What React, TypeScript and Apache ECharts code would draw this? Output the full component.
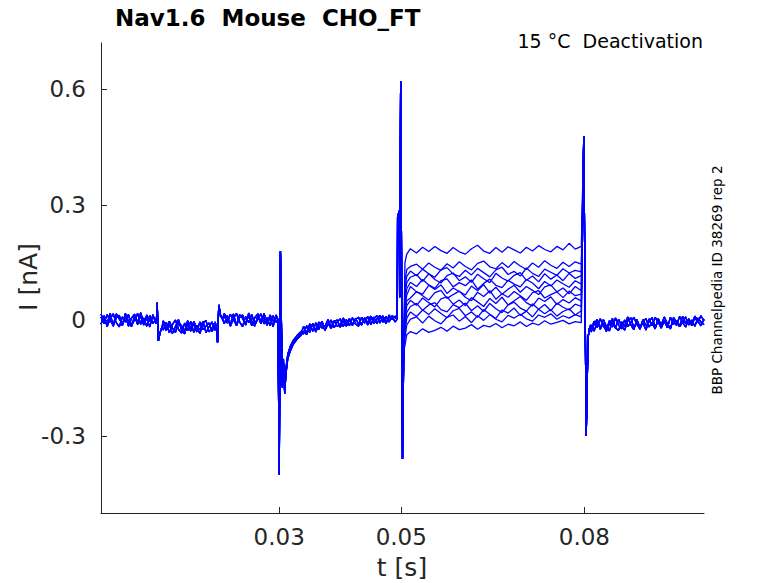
import React, { useEffect, useRef } from "react";
import * as echarts from "echarts";

// ---- axis ranges & ticks ----
const X_MIN = 0.0008;
const X_MAX = 0.0996;
const Y_MIN = -0.5;
const Y_MAX = 0.72;
const xTicks = [0.03, 0.05, 0.08];
const yTicks = [-0.3, 0, 0.3, 0.6];

// ---- shared baseline segments (3 overlapping recordings), sampled every 0.5 ms ----
const SAMPLE_DT = 0.0005;
const segAStart = 0.0008;
const segA = [
  [0.009, -0.008, 0.015, 0.000, -0.013, 0.017, 0.004, -0.010, 0.012, -0.015, 0.006, 0.016, -0.005, 0.011, -0.012, 0.014, -0.003, 0.010, 0.002],
  [-0.010, 0.012, -0.016, 0.004, 0.017, -0.006, -0.017, 0.009, -0.004, 0.015, -0.013, 0.002, 0.018, -0.010, 0.006, -0.015, 0.013, -0.008, 0.003],
  [0.016, -0.002, -0.009, 0.019, -0.015, 0.007, 0.013, -0.014, 0.018, -0.003, -0.016, 0.011, -0.011, 0.020, -0.006, 0.004, -0.017, 0.015, -0.009],
];
const tr1Times = [0.0099, 0.0100, 0.0102, 0.0105, 0.0108];
const tr1Values = [0.004, 0.046, -0.053, -0.030, -0.018];

const segBStart = 0.0110;
const segB = [
  [-0.008, -0.027, -0.002, -0.020, -0.031, -0.006, -0.014, -0.028, -0.001, -0.022, -0.010, -0.030, -0.004, -0.024, -0.015, -0.007, -0.029, -0.012],
  [-0.025, -0.005, -0.032, -0.011, 0.001, -0.023, -0.033, -0.007, -0.027, -0.003, -0.031, -0.013, -0.025, -0.002, -0.032, -0.017, -0.004, -0.026],
  [-0.001, -0.021, -0.011, -0.034, -0.016, 0.002, -0.025, -0.035, -0.009, -0.028, -0.003, -0.019, -0.034, -0.008, 0.000, -0.030, -0.020, -0.004],
];
const tr2Times = [0.0197, 0.0199, 0.0201, 0.0204, 0.0207];
const tr2Values = [-0.015, -0.057, 0.040, 0.012, 0.004];

const segCStart = 0.0210;
const segC = [
  [0.012, -0.007, 0.016, 0.001, -0.012, 0.015, 0.005, -0.010, 0.013, -0.014, 0.007, 0.017, -0.004, 0.009, -0.013, 0.014, -0.002, 0.008],
  [-0.009, 0.013, -0.015, 0.005, 0.018, -0.004, -0.016, 0.010, -0.006, 0.016, -0.011, 0.003, 0.017, -0.009, 0.007, -0.014, 0.012, -0.005],
  [0.018, 0.000, -0.010, 0.017, -0.014, 0.008, 0.014, -0.012, 0.019, -0.002, -0.015, 0.012, -0.009, 0.018, -0.005, 0.005, -0.016, 0.014],
];
const tr3Times = [0.0298, 0.0300, 0.0302, 0.0305, 0.0307, 0.0309, 0.0311, 0.0314, 0.0318, 0.0323, 0.0329, 0.0335];
const tr3Values = [
  [0.002, -0.40, 0.18, -0.17, -0.11, -0.19, -0.135, -0.095, -0.075, -0.058, -0.046, -0.036],
  [0.004, -0.39, 0.175, -0.16, -0.10, -0.185, -0.125, -0.088, -0.068, -0.052, -0.040, -0.030],
  [0.000, -0.40, 0.18, -0.175, -0.115, -0.19, -0.14, -0.100, -0.080, -0.062, -0.049, -0.040],
];

const segDStart = 0.0340;
const segD = [
  [-0.016, -0.033, -0.009, -0.028, -0.006, -0.024, -0.002, -0.022, -0.012, 0.001, -0.019, -0.004, 0.004, -0.016, 0.002, -0.014, 0.007, -0.009, -0.015, 0.008, -0.007, 0.010, -0.011, 0.005, 0.012, -0.007, 0.009, -0.009, 0.014, 0.002, 0.011],
  [-0.035, -0.014, -0.031, -0.008, -0.027, -0.004, -0.020, -0.015, 0.002, -0.018, -0.001, -0.015, -0.012, 0.006, -0.011, 0.005, -0.010, 0.002, 0.008, -0.012, 0.006, -0.006, 0.011, -0.008, 0.004, 0.013, -0.005, 0.010, -0.004, 0.012, 0.007],
  [-0.028, -0.037, -0.016, -0.011, -0.030, -0.009, -0.006, -0.026, -0.008, -0.021, -0.003, 0.001, -0.018, -0.002, -0.015, 0.001, -0.013, 0.005, -0.009, -0.011, 0.007, -0.012, 0.003, 0.008, -0.008, 0.006, 0.011, -0.005, 0.007, 0.009, -0.004],
];

// onset of the test step at 0.05 s
const tr4Times = [0.04935, 0.0494, 0.0497, 0.04975, 0.0499, 0.0502, 0.0504];
const tr4Values = [0.004, 0.27, 0.285, 0.06, 0.62, -0.36, -0.08];

// ---- the 12 sweeps during the step (0.05 - 0.08 s) ----
const stepTimes = [
  0.0506, 0.0509, 0.0515, 0.0525, 0.0535, 0.0545, 0.0555, 0.0565, 0.0575, 0.0585, 0.0595,
  0.0605, 0.0615, 0.0625, 0.0635, 0.0645, 0.0655, 0.0665, 0.0675, 0.0685, 0.0695,
  0.0705, 0.0715, 0.0725, 0.0735, 0.0745, 0.0755, 0.0765, 0.0775, 0.0785, 0.0795,
];
const sweep1 = [0.150, 0.172, 0.186, 0.175, 0.190, 0.179, 0.192, 0.181, 0.174, 0.189, 0.178, 0.172, 0.186, 0.195, 0.180, 0.174, 0.189, 0.177, 0.191, 0.183, 0.175, 0.190, 0.180, 0.194, 0.184, 0.178, 0.192, 0.183, 0.200, 0.185, 0.192];
const sweep2 = [0.105, 0.132, 0.140, 0.146, 0.133, 0.149, 0.138, 0.130, 0.147, 0.136, 0.152, 0.140, 0.131, 0.148, 0.154, 0.139, 0.134, 0.150, 0.137, 0.153, 0.141, 0.132, 0.149, 0.138, 0.155, 0.143, 0.135, 0.151, 0.140, 0.152, 0.146];
const sweep3 = [0.085, 0.114, 0.128, 0.116, 0.133, 0.121, 0.112, 0.131, 0.137, 0.120, 0.114, 0.130, 0.118, 0.135, 0.124, 0.113, 0.131, 0.138, 0.119, 0.127, 0.115, 0.136, 0.122, 0.114, 0.133, 0.125, 0.117, 0.134, 0.123, 0.130, 0.126];
const sweep4 = [0.065, 0.098, 0.112, 0.119, 0.101, 0.121, 0.106, 0.097, 0.116, 0.123, 0.103, 0.113, 0.099, 0.120, 0.108, 0.098, 0.122, 0.110, 0.102, 0.117, 0.124, 0.104, 0.115, 0.100, 0.121, 0.107, 0.118, 0.103, 0.122, 0.109, 0.116];
const sweep5 = [0.050, 0.082, 0.099, 0.088, 0.106, 0.092, 0.083, 0.103, 0.108, 0.087, 0.098, 0.090, 0.105, 0.081, 0.096, 0.107, 0.091, 0.085, 0.104, 0.094, 0.087, 0.106, 0.097, 0.082, 0.101, 0.089, 0.105, 0.095, 0.086, 0.103, 0.094];
const sweep6 = [0.030, 0.066, 0.088, 0.074, 0.068, 0.091, 0.080, 0.092, 0.070, 0.084, 0.075, 0.066, 0.089, 0.077, 0.093, 0.071, 0.086, 0.068, 0.081, 0.091, 0.073, 0.088, 0.078, 0.067, 0.087, 0.092, 0.074, 0.084, 0.069, 0.088, 0.077];
const sweep7 = [0.015, 0.051, 0.058, 0.075, 0.064, 0.053, 0.072, 0.078, 0.057, 0.067, 0.076, 0.060, 0.051, 0.073, 0.062, 0.077, 0.055, 0.069, 0.060, 0.075, 0.064, 0.052, 0.072, 0.077, 0.058, 0.067, 0.074, 0.059, 0.076, 0.064, 0.068];
const sweep8 = [0.000, 0.038, 0.052, 0.039, 0.058, 0.046, 0.035, 0.056, 0.061, 0.042, 0.053, 0.038, 0.059, 0.048, 0.036, 0.057, 0.044, 0.060, 0.040, 0.051, 0.062, 0.046, 0.037, 0.058, 0.049, 0.061, 0.041, 0.054, 0.045, 0.059, 0.050];
const sweep9 = [-0.015, 0.021, 0.036, 0.044, 0.026, 0.040, 0.046, 0.028, 0.022, 0.041, 0.033, 0.045, 0.025, 0.038, 0.023, 0.044, 0.030, 0.020, 0.040, 0.047, 0.032, 0.024, 0.043, 0.029, 0.041, 0.025, 0.045, 0.034, 0.027, 0.042, 0.036];
const sweep10 = [-0.030, 0.006, 0.022, 0.010, 0.027, 0.015, 0.030, 0.018, 0.007, 0.025, 0.031, 0.012, 0.022, 0.008, 0.028, 0.016, 0.005, 0.027, 0.019, 0.032, 0.013, 0.024, 0.009, 0.029, 0.017, 0.028, 0.011, 0.023, 0.030, 0.014, 0.025];
const sweep11 = [-0.045, -0.012, 0.003, 0.009, -0.007, 0.011, -0.001, -0.009, 0.008, 0.014, -0.002, 0.010, -0.006, 0.012, 0.000, 0.015, 0.003, -0.004, 0.013, 0.006, 0.016, 0.004, -0.002, 0.014, 0.008, 0.017, 0.003, 0.012, 0.006, 0.015, 0.009];
const sweep12 = [-0.065, -0.037, -0.029, -0.035, -0.022, -0.031, -0.026, -0.018, -0.028, -0.015, -0.024, -0.020, -0.011, -0.023, -0.013, -0.017, -0.008, -0.019, -0.010, -0.014, -0.004, -0.016, -0.007, -0.012, -0.001, -0.010, -0.005, 0.000, -0.009, -0.003, -0.006];
const stepSweeps = [sweep1, sweep2, sweep3, sweep4, sweep5, sweep6, sweep7, sweep8, sweep9, sweep10, sweep11, sweep12];

// step offset at 0.08 s
const tr5Times = [0.0799, 0.0803, 0.0806, 0.0809];
const tr5Values = [0.478, -0.30, -0.045, -0.015];

const segEStart = 0.0811;
const segE = [
  [-0.024, -0.002, -0.019, 0.004, -0.014, -0.026, -0.001, -0.017, 0.006, -0.012, -0.022, 0.001, -0.016, -0.006, 0.008, -0.010, -0.021, 0.002, -0.014, -0.004, 0.007, -0.018, 0.000, -0.011, 0.009, -0.009, -0.020, 0.003, -0.013, 0.010, -0.005, -0.017, 0.004, -0.009, 0.011, -0.002, -0.014, 0.003],
  [-0.012, -0.028, -0.004, -0.021, 0.002, -0.016, -0.027, -0.003, -0.020, 0.003, -0.015, -0.025, -0.002, 0.007, -0.019, -0.008, -0.023, -0.001, 0.004, -0.017, -0.006, -0.022, 0.005, -0.013, -0.003, -0.019, 0.008, -0.010, 0.000, -0.016, -0.005, 0.009, -0.012, 0.001, -0.015, 0.006, -0.004, -0.011],
  [-0.030, -0.010, 0.003, -0.023, -0.007, -0.029, -0.009, 0.005, -0.020, -0.026, -0.004, -0.016, 0.009, -0.011, -0.024, 0.002, -0.018, -0.007, -0.025, 0.004, -0.014, 0.008, -0.005, -0.020, -0.001, -0.012, -0.022, 0.007, -0.004, -0.016, 0.011, -0.008, 0.002, -0.014, 0.008, -0.005, 0.012, -0.001],
];

// ---- texts ----
const titleText = "Nav1.6  Mouse  CHO_FT";
const subtitleText = "15 °C  Deactivation";
const sideText = "BBP Channelpedia ID 38269 rep 2";
const xName = "t [s]";
const yName = "I [nA]";

const FONT = '"DejaVu Sans", "Liberation Sans", sans-serif';
const TRACE_COLOR = "#0000ff";
const AXIS_COLOR = "#262626";

function sampled(t0: number, vals: number[]) {
  return vals.map((v, i) => [t0 + i * SAMPLE_DT, v]);
}
function pairs(ts: number[], vs: number[]) {
  return ts.map((t, i) => [t, vs[i]]);
}

function buildSweep(i: number) {
  const b = i % 3;
  return [
    ...sampled(segAStart, segA[b]),
    ...pairs(tr1Times, tr1Values),
    ...sampled(segBStart, segB[b]),
    ...pairs(tr2Times, tr2Values),
    ...sampled(segCStart, segC[b]),
    ...pairs(tr3Times, tr3Values[b]),
    ...sampled(segDStart, segD[b]),
    ...pairs(tr4Times, tr4Values),
    ...pairs(stepTimes, stepSweeps[i]),
    ...pairs(tr5Times, tr5Values),
    ...sampled(segEStart, segE[b]),
  ];
}

export default function App() {
  const ref = useRef<HTMLDivElement>(null);
  useEffect(() => {
    if (!ref.current) return;
    const chart = echarts.init(ref.current, undefined, { renderer: "svg" });
    const series = stepSweeps.map((_, i) => ({
      type: "line",
      data: buildSweep(i),
      showSymbol: false,
      symbol: "none",
      silent: true,
      lineStyle: { color: TRACE_COLOR, width: 1.3 },
      z: 2,
    }));
    chart.setOption({
      animation: false,
      backgroundColor: "#ffffff",
      grid: { left: 101, top: 43, width: 603, height: 470, containLabel: false },
      xAxis: {
        type: "value",
        min: X_MIN,
        max: X_MAX,
        axisLine: { show: true, onZero: false, lineStyle: { color: AXIS_COLOR, width: 1 } },
        axisTick: { show: true, inside: true, length: 6, customValues: xTicks, lineStyle: { color: AXIS_COLOR } },
        axisLabel: {
          customValues: xTicks,
          margin: 12,
          fontSize: 23,
          fontFamily: FONT,
          color: AXIS_COLOR,
          formatter: (v: number) => String(Number(v.toFixed(4))),
        },
        splitLine: { show: false },
      },
      yAxis: {
        type: "value",
        min: Y_MIN,
        max: Y_MAX,
        axisLine: { show: true, onZero: false, lineStyle: { color: AXIS_COLOR, width: 1 } },
        axisTick: { show: true, inside: true, length: 6, customValues: yTicks, lineStyle: { color: AXIS_COLOR } },
        axisLabel: {
          customValues: yTicks,
          margin: 15,
          fontSize: 23,
          fontFamily: FONT,
          color: AXIS_COLOR,
          formatter: (v: number) => (Math.abs(v) < 1e-9 ? "0" : String(Number(v.toFixed(4)))),
        },
        splitLine: { show: false },
      },
      graphic: [
        {
          type: "text",
          x: 115,
          y: 18,
          style: { text: titleText, font: `bold 23px ${FONT}`, fill: "#000000", textAlign: "left", textVerticalAlign: "middle" },
        },
        {
          type: "text",
          x: 703,
          y: 41,
          style: { text: subtitleText, font: `19px ${FONT}`, fill: "#000000", textAlign: "right", textVerticalAlign: "middle" },
        },
        {
          type: "text",
          x: 717,
          y: 280,
          rotation: Math.PI / 2,
          style: { text: sideText, font: `13.5px ${FONT}`, fill: "#000000", textAlign: "center", textVerticalAlign: "middle" },
        },
        {
          type: "text",
          x: 402,
          y: 567,
          style: { text: xName, font: `25px ${FONT}`, fill: AXIS_COLOR, textAlign: "center", textVerticalAlign: "middle" },
        },
        {
          type: "text",
          x: 28,
          y: 277,
          rotation: Math.PI / 2,
          style: { text: yName, font: `25px ${FONT}`, fill: AXIS_COLOR, textAlign: "center", textVerticalAlign: "middle" },
        },
      ],
      series,
    });
    return () => chart.dispose();
  }, []);
  return (
    <div
      ref={ref}
      style={{ position: "fixed", left: 0, top: 0, width: 778, height: 583, background: "#fff" }}
    />
  );
}
